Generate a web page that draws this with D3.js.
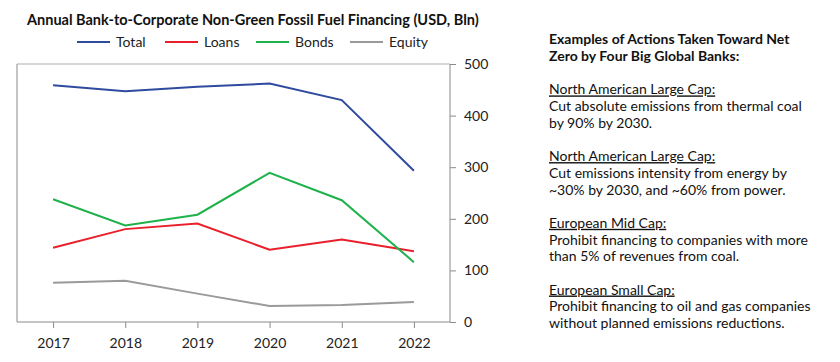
<!DOCTYPE html>
<html>
<head>
<meta charset="utf-8">
<script src="https://cdn.jsdelivr.net/npm/d3@7"></script>
<style>
  body { margin: 0; background: #fff; }
  svg { font-family: Lato, "Open Sans", sans-serif; }
</style>
</head>
<body>
<div id="container"></div>
<script>
// data (USD bln)
var years = ["2017", "2018", "2019", "2020", "2021", "2022"];
var total = [459, 447, 456, 462, 430, 293];
var loans = [144, 180, 191, 140, 160, 137];
var bonds = [238, 187, 208, 289, 236, 116];
var equity = [76, 80, 55, 31, 33, 39];
var seriesNames = ["Total", "Loans", "Bonds", "Equity"];
var seriesColors = ["#2f4b9f", "#e9202b", "#1fb24b", "#9a9a9a"];
var yTicks = [0, 100, 200, 300, 400, 500];

var notes = [
    {head: "North American Large Cap:", body: ["Cut absolute emissions from thermal coal", "by 90% by 2030."]},
    {head: "North American Large Cap:", body: ["Cut emissions intensity from energy by", "~30% by 2030, and ~60% from power."]},
    {head: "European Mid Cap:", body: ["Prohibit financing to companies with more", "than 5% of revenues from coal."]},
    {head: "European Small Cap:", body: ["Prohibit financing to oil and gas companies", "without planned emissions reductions."]}
];

var width = 840, height = 362;
var plot = {left: 17, right: 450, top: 64, bottom: 322};

var svg = d3.select("#container").append("svg")
    .attr("width", width)
    .attr("height", height);

var x = d3.scalePoint()
    .domain(years)
    .range([plot.left, plot.right])
    .padding(0.5);

var y = d3.scaleLinear()
    .domain([0, 500])
    .range([plot.bottom, plot.top]);

// title
svg.append("text")
    .attr("x", 27).attr("y", 25)
    .style("font-size", "14.5px")
    .style("font-weight", "bold")
    .attr("fill", "#111")
    .text("Annual Bank-to-Corporate Non-Green Fossil Fuel Financing (USD, Bln)");

// legend
var legendX = [77, 165, 256, 350];
var legend = svg.append("g").selectAll("g")
    .data(seriesNames)
    .enter().append("g")
    .attr("transform", function (d, i) { return "translate(" + legendX[i] + ",42)"; });
legend.append("line")
    .attr("x1", 0).attr("x2", 33)
    .attr("stroke", function (d, i) { return seriesColors[i]; })
    .attr("stroke-width", 2);
legend.append("text")
    .attr("x", 39).attr("dy", "0.35em")
    .style("font-size", "14px")
    .attr("fill", "#222")
    .text(function (d) { return d; });

// frame
svg.append("line")
    .attr("x1", plot.left).attr("x2", plot.right)
    .attr("y1", plot.top).attr("y2", plot.top)
    .attr("stroke", "#cacaca").attr("stroke-width", 1.5);
svg.append("line")
    .attr("x1", plot.left).attr("x2", plot.left)
    .attr("y1", plot.top).attr("y2", plot.bottom)
    .attr("stroke", "#8a8a8a");

// bottom axis
var xAxis = svg.append("g")
    .attr("transform", "translate(0," + plot.bottom + ")")
    .call(d3.axisBottom(x).tickSize(6).tickPadding(10));
xAxis.select(".domain").attr("stroke", "#8a8a8a").attr("d", "M" + plot.left + ",0H" + plot.right);
xAxis.selectAll(".tick line").attr("stroke", "#8a8a8a");
xAxis.selectAll("text").style("font-size", "14px").attr("fill", "#222")
    .style("font-family", "Lato, sans-serif");

// right axis
var yAxis = svg.append("g")
    .attr("transform", "translate(" + plot.right + ",0)")
    .call(d3.axisRight(y).tickValues(yTicks).tickSize(6).tickPadding(8));
yAxis.select(".domain").attr("stroke", "#8a8a8a").attr("d", "M0," + plot.top + "V" + plot.bottom);
yAxis.selectAll(".tick line").attr("stroke", "#8a8a8a");
yAxis.selectAll("text").style("font-size", "14px").attr("fill", "#222")
    .style("font-family", "Lato, sans-serif");

// lines
var line = d3.line()
    .x(function (d, i) { return x(years[i]); })
    .y(function (d) { return y(d); });

var allSeries = [equity, loans, bonds, total];
var allColors = [seriesColors[3], seriesColors[1], seriesColors[2], seriesColors[0]];
svg.append("g").selectAll("path")
    .data(allSeries)
    .enter().append("path")
    .attr("d", line)
    .attr("fill", "none")
    .attr("stroke", function (d, i) { return allColors[i]; })
    .attr("stroke-width", 2);

// notes panel
var notesG = svg.append("g")
    .attr("transform", "translate(549,0)")
    .style("font-size", "14px")
    .attr("fill", "#111");
var lineH = 16.7;
notesG.append("text").attr("y", 39).attr("dy", "0.35em")
    .style("font-weight", "bold")
    .text("Examples of Actions Taken Toward Net");
notesG.append("text").attr("y", 39 + lineH).attr("dy", "0.35em")
    .style("font-weight", "bold")
    .text("Zero by Four Big Global Banks:");

notes.forEach(function (n, k) {
    var y0 = 89.5 + k * 3 * 22.3 + k * 0.5;
    y0 = 89.5 + k * 66.7;
    notesG.append("text").attr("y", y0).attr("dy", "0.35em")
        .style("text-decoration", "underline")
        .text(n.head);
    n.body.forEach(function (t, j) {
        notesG.append("text").attr("y", y0 + (j + 1) * lineH).attr("dy", "0.35em")
            .text(t);
    });
});
</script>
</body>
</html>
